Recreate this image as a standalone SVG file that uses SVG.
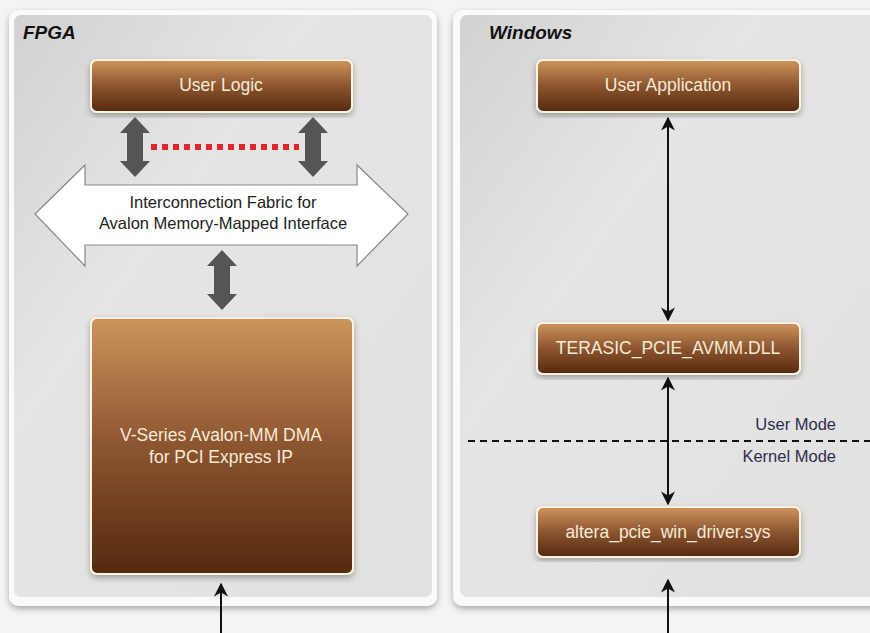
<svg xmlns="http://www.w3.org/2000/svg" width="870" height="633" viewBox="0 0 870 633">
<defs>
<linearGradient id="brown" x1="0" y1="0" x2="0" y2="1">
<stop offset="0" stop-color="#cc955c"/>
<stop offset="0.5" stop-color="#8c5530"/>
<stop offset="1" stop-color="#55290f"/>
</linearGradient>
<linearGradient id="panel" x1="0" y1="0" x2="1" y2="1">
<stop offset="0" stop-color="#d2d2d2"/>
<stop offset="0.35" stop-color="#e6e5e4"/>
<stop offset="1" stop-color="#e2e1e0"/>
</linearGradient>
<filter id="sh" x="-10%" y="-10%" width="120%" height="120%">
<feDropShadow dx="0" dy="3" stdDeviation="3" flood-color="#000" flood-opacity="0.3"/>
</filter>
<marker id="ah" viewBox="0 0 10 10" refX="9" refY="5" markerWidth="7" markerHeight="7" orient="auto-start-reverse">
<path d="M0,0 L10,5 L0,10 L3,5 z" fill="#111"/>
</marker>
</defs>
<style>
.box{fill:url(#brown);stroke:#fbf3e2;stroke-width:2;filter:url(#sh)}
.bt{font-family:"Liberation Sans",Arial,sans-serif;font-size:17.5px;fill:#f6ead6;text-anchor:middle}
.title{font-family:"Liberation Sans",Arial,sans-serif;font-size:19px;font-weight:bold;font-style:italic;fill:#111}
.lbl{font-family:"Liberation Sans",Arial,sans-serif;font-size:16.5px;fill:#222;text-anchor:middle}
.mode{font-family:"Liberation Sans",Arial,sans-serif;font-size:16.5px;fill:#2a3050;text-anchor:end}
.conn{stroke:#111;stroke-width:2;fill:none}
.garrow{fill:#555}
</style>
<rect width="870" height="633" fill="#f4f4f4"/>
<g id="fpga">
<rect x="9" y="10" width="428" height="596" rx="10" fill="#fafafa" filter="url(#sh)"/>
<rect x="14" y="15" width="418" height="582" rx="7" fill="url(#panel)"/>
<text x="23" y="39" class="title">FPGA</text>
</g>
<g id="windows">
<rect x="453" y="10" width="430" height="596" rx="10" fill="#fafafa" filter="url(#sh)"/>
<rect x="460" y="15" width="420" height="582" rx="7" fill="url(#panel)"/>
<text x="489" y="39" class="title">Windows</text>
</g>
<g id="user-logic">
<rect class="box" x="91" y="60" width="261" height="52" rx="6"/>
<text class="bt" x="221" y="91">User Logic</text>
</g>
<g id="fabric">
<path d="M35,214 L85,165 L85,185 L357,185 L357,165 L408,214 L357,266 L357,245 L85,245 L85,266 Z" fill="#ffffff" stroke="#888" stroke-width="1.2"/>
<text class="lbl" x="223" y="208">Interconnection Fabric for</text>
<text class="lbl" x="223" y="229">Avalon Memory-Mapped Interface</text>
</g>
<g id="dma">
<rect class="box" x="91" y="318" width="262" height="256" rx="6"/>
<text class="bt" x="221" y="441">V-Series Avalon-MM DMA</text>
<text class="bt" x="221" y="463">for PCI Express IP</text>
</g>
<g id="user-app">
<rect class="box" x="537" y="60" width="263" height="52" rx="6"/>
<text class="bt" x="668" y="91">User Application</text>
</g>
<g id="dll">
<rect class="box" x="537" y="323" width="263" height="51" rx="6"/>
<text class="bt" x="668" y="354">TERASIC_PCIE_AVMM.DLL</text>
</g>
<g id="driver">
<rect class="box" x="537" y="507" width="263" height="50" rx="6"/>
<text class="bt" x="668" y="538">altera_pcie_win_driver.sys</text>
</g>
<g id="connectors">
<path class="garrow" d="M135,117 L150,133 L143,133 L143,161 L150,161 L135,177 L120,161 L127,161 L127,133 L120,133 Z"/>
<path class="garrow" d="M313,117 L328,133 L321,133 L321,161 L328,161 L313,177 L298,161 L305,161 L305,133 L298,133 Z"/>
<path class="garrow" d="M222,250 L237,266 L230,266 L230,294 L237,294 L222,310 L207,294 L214,294 L214,266 L207,266 Z"/>
<line x1="151" y1="147" x2="299" y2="147" stroke="#e0262a" stroke-width="6" stroke-dasharray="6,5"/>
<line class="conn" x1="221" y1="633" x2="221" y2="584" marker-end="url(#ah)"/>
<line class="conn" x1="668" y1="118" x2="668" y2="320" marker-start="url(#ah)" marker-end="url(#ah)"/>
<line class="conn" x1="668" y1="378" x2="668" y2="504" marker-start="url(#ah)" marker-end="url(#ah)"/>
<line class="conn" x1="668" y1="633" x2="668" y2="580" marker-end="url(#ah)"/>
<line x1="468" y1="441" x2="870" y2="441" stroke="#111" stroke-width="2" stroke-dasharray="7,5"/>
<text class="mode" x="836" y="430">User Mode</text>
<text class="mode" x="836" y="462">Kernel Mode</text>
</g>
</svg>
